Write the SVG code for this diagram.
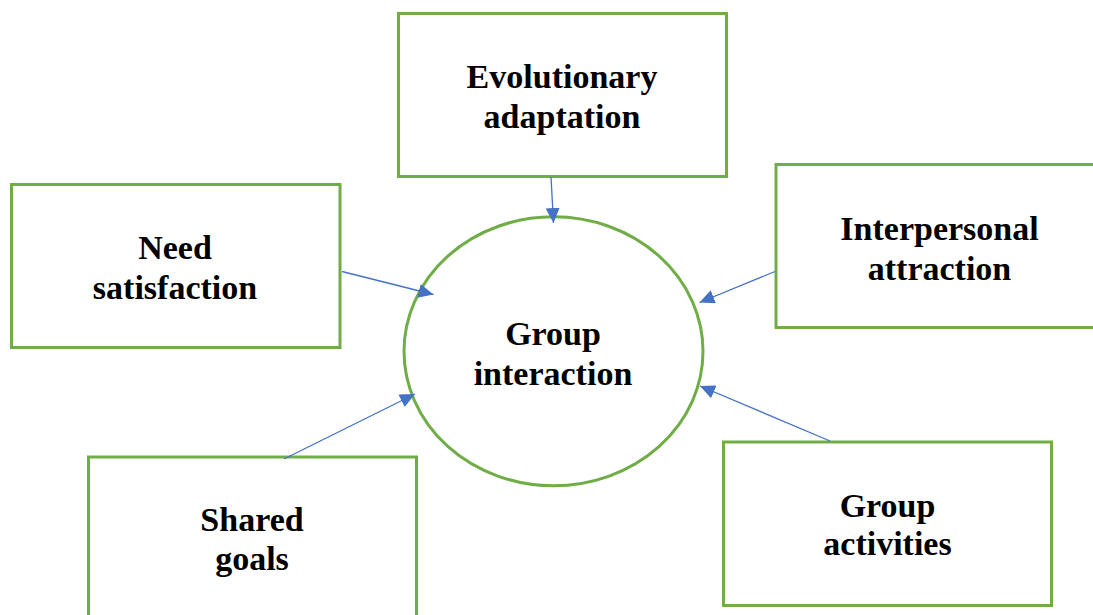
<svg xmlns="http://www.w3.org/2000/svg" width="1093" height="615" viewBox="0 0 1093 615">
  <style>
    .box { fill: #ffffff; stroke: #70AD47; stroke-width: 3; }
    .hub { fill: #ffffff; stroke: #70AD47; stroke-width: 3; }
    .label { font-family: "Liberation Serif", "Times New Roman", serif; font-weight: bold; font-size: 34px; fill: #000000; text-anchor: middle; }
    .link { stroke: #4472C4; stroke-width: 1.3; fill: none; marker-end: url(#arrow); }
  </style>
  <defs>
    <marker id="arrow" markerUnits="userSpaceOnUse" markerWidth="16" markerHeight="15" refX="15" refY="7" orient="auto">
      <path d="M0,0 L15,7 L0,14 Z" fill="#4472C4"/>
    </marker>
  </defs>
  <rect width="1093" height="615" fill="#ffffff"/>

  <!-- central node -->
  <g id="group-interaction">
    <ellipse class="hub" cx="553.5" cy="351.3" rx="149.5" ry="134.5"/>
    <text class="label" x="553" y="345">Group</text>
    <text class="label" x="553" y="385">interaction</text>
  </g>

  <g id="evolutionary-adaptation">
    <rect class="box" x="398.5" y="13.5" width="328" height="163"/>
    <text class="label" x="562" y="88">Evolutionary</text>
    <text class="label" x="562" y="128">adaptation</text>
  </g>

  <g id="need-satisfaction">
    <rect class="box" x="11.5" y="184.5" width="328.5" height="163"/>
    <text class="label" x="175" y="259">Need</text>
    <text class="label" x="175" y="298.5">satisfaction</text>
  </g>

  <g id="interpersonal-attraction">
    <rect class="box" x="776" y="164.5" width="330" height="163"/>
    <text class="label" x="939.5" y="239.5">Interpersonal</text>
    <text class="label" x="939.5" y="279.5">attraction</text>
  </g>

  <g id="shared-goals">
    <rect class="box" x="88.5" y="457" width="328" height="170"/>
    <text class="label" x="252" y="530.5">Shared</text>
    <text class="label" x="252" y="570">goals</text>
  </g>

  <g id="group-activities">
    <rect class="box" x="723.5" y="442" width="328" height="163.5"/>
    <text class="label" x="887.5" y="516.5">Group</text>
    <text class="label" x="887.5" y="555">activities</text>
  </g>

  <!-- connectors -->
  <g id="connectors">
    <line class="link" x1="551" y1="177" x2="553.5" y2="223"/>
    <line class="link" x1="342" y1="271.5" x2="433.5" y2="294.5"/>
    <line class="link" x1="775" y1="271.5" x2="699.5" y2="302.5"/>
    <line class="link" x1="284" y1="459" x2="415" y2="394"/>
    <line class="link" x1="830" y1="441" x2="700" y2="386"/>
  </g>
</svg>
